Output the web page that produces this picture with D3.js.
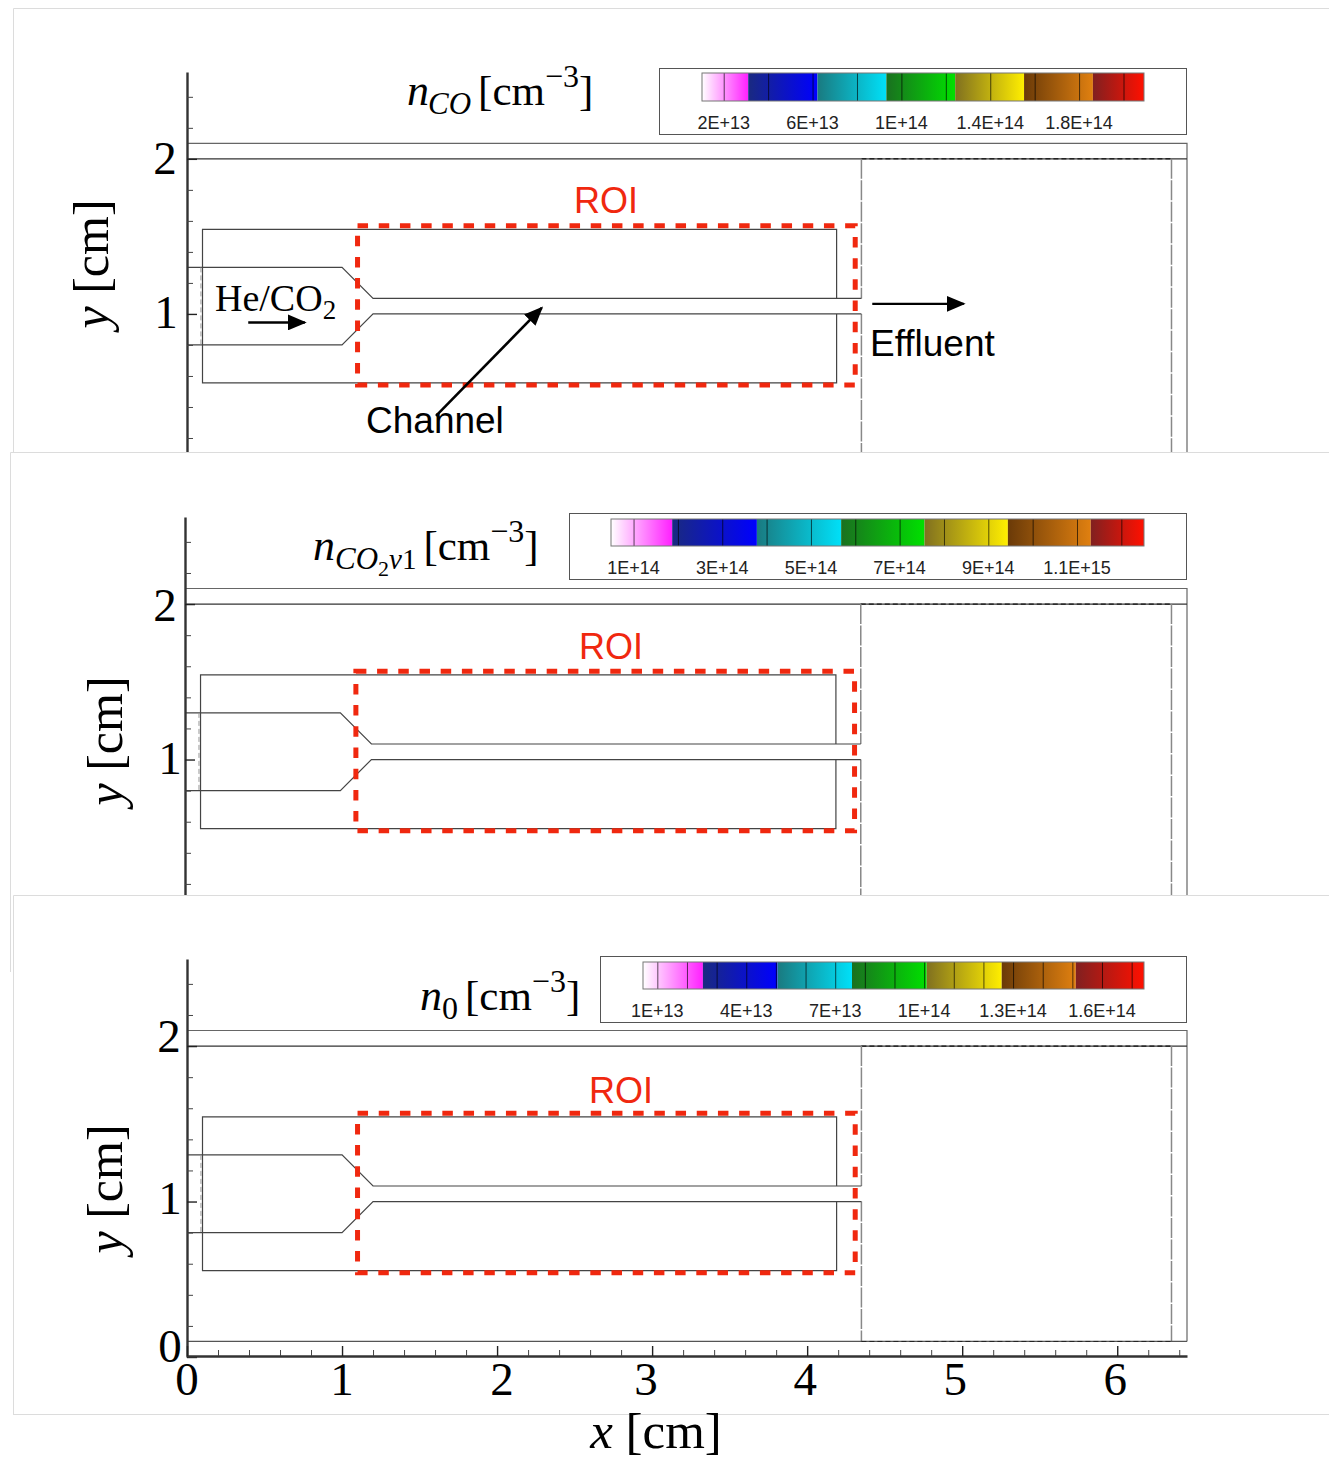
<!DOCTYPE html>
<html><head><meta charset="utf-8">
<script src="https://cdn.jsdelivr.net/npm/d3@7"></script>
<style>html,body{margin:0;padding:0;background:#fff}svg{display:block}</style></head>
<body><svg id="c" width="1329" height="1459"></svg>
<script>
// ---------- data (centimetres and colour-bar values) ----------
const xMajorTicks=[0,1,2,3,4,5,6];
const xMinorTicks=[0.2,0.4,0.6,0.8,1.2,1.4,1.6,1.8,2.2,2.4,2.6,2.8,3.2,3.4,3.6,3.8,4.2,4.4,4.6,4.8,5.2,5.4,5.6,5.8,6.2,6.4];
const yMajorTicks=[0,1,2];
const yMinorTicks=[0.2,0.4,0.6,0.8,1.2,1.4,1.6,1.8,2.2,2.4];
const wallUpper=[[0,1.3],[1,1.3],[1.2,1.1],[4.35,1.1]];
const wallLower=[[0,0.8],[1,0.8],[1.2,1],[4.35,1]];
const inletDash=[[0.09,1.3],[0.09,0.8]];
const innerBox=[[4.19,1.1],[4.19,1.545],[0.1,1.545],[0.1,0.555],[4.19,0.555],[4.19,1]];
const roiBox=[1.1,4.31,0.542,1.568];
const bandStart=["#ffffff","#1a2a80","#1a7a80","#1a7020","#807020","#6a3a08","#802020"];
const bandEnd=["#ff20ff","#0000ff","#00e0f8","#00e000","#ffee00","#e08010","#ff1000"];
// colour-bar 1 (units 1E13)
const bands1=[1,3.08,6.2,9.3,12.4,15.5,18.6,20.9];
const levels1=[2,4,6,8,10,12,14,16,18,20];
const labelVals1=[2,6,10,14,18];
const labels1=["2E+13","6E+13","1E+14","1.4E+14","1.8E+14"];
// colour-bar 2 (units 1E14)
const bands2=[0.48,1.86,3.77,5.67,7.55,9.43,11.3,12.5];
const levels2=[1,2,3,4,5,6,7,8,9,10,11,12];
const labelVals2=[1,3,5,7,9,11];
const labels2=["1E+14","3E+14","5E+14","7E+14","9E+14","1.1E+15"];
// colour-bar 3 (units 1E13)
const bands3=[0.5,2.52,5.04,7.55,10.07,12.6,15.1,17.4];
const levels3=[1,2,3,4,5,6,7,8,9,10,11,12,13,14,15,16,17];
const labelVals3=[1,4,7,10,13,16];
const labels3=["1E+13","4E+13","7E+13","1E+14","1.3E+14","1.6E+14"];

// ---------- layout ----------
const SERIF="'Liberation Serif',serif", SANS="'Liberation Sans',sans-serif";
const RED="#f0280f", LINE="#444";
const panels=[
 {top:8,bottom:452,frameL:13,frameB:452,xr:[187,1187],yr:[469,72],bands:bands1,levels:levels1,labelVals:labelVals1,labels:labels1,
  legend:[659,68,1186,134],bar:[702,1144,73,101],labelY:129,roi:[606,213],yTitle:[91,264],yLab:[[2,165,174],[1,166,328]],title:{x:407,y:105}},
 {top:452,bottom:895,frameL:10,frameB:972,xr:[185,1187],yr:[915,517],bands:bands2,levels:levels2,labelVals:labelVals2,labels:labels2,
  legend:[569,513,1186,579],bar:[611,1144,519,546],labelY:574,roi:[611,659],yTitle:[105,741],yLab:[[2,165,621],[1,170,774]],title:{x:313,y:560}},
 {top:895,bottom:1414,frameL:13,frameB:1414,xr:[187,1187],yr:[1357,959],bands:bands3,levels:levels3,labelVals:labelVals3,labels:labels3,
  legend:[600,956,1186,1022],bar:[643,1144,962,989],labelY:1017,roi:[621,1103],yTitle:[105,1189],yLab:[[2,169,1052],[1,170,1214],[0,170,1362]],title:{x:420,y:1010}}
];
const svg=d3.select("#c");
const defs=svg.append("defs");
bandStart.forEach((c,i)=>{
  const g=defs.append("linearGradient").attr("id","band"+i);
  g.append("stop").attr("offset","0%").attr("stop-color",c);
  g.append("stop").attr("offset","100%").attr("stop-color",bandEnd[i]);
});
defs.append("marker").attr("id","m1").attr("viewBox","0 0 10 10").attr("refX",9).attr("refY",5)
    .attr("preserveAspectRatio","none")
    .attr("markerUnits","userSpaceOnUse").attr("markerWidth",19).attr("markerHeight",16).attr("orient","auto")
    .append("path").attr("d","M0,0L10,5L0,10Z").attr("fill","#000");
const lineGen=(x,y)=>d3.line().x(d=>x(d[0])).y(d=>y(d[1]));

panels.forEach((p,i)=>{
  const x=d3.scaleLinear().domain([0,6.45]).range(p.xr);
  const y=d3.scaleLinear().domain([0,2.56]).range(p.yr);
  const g=svg.append("g");
  // frame
  g.append("path").attr("d",`M1329,${p.top+.5}H${p.frameL+.5}V${p.frameB}`).attr("fill","none").attr("stroke","#dcdcdc").attr("stroke-width",1);
  if(i===2) g.append("path").attr("d",`M${p.frameL},${p.bottom+.5}H1329`).attr("stroke","#dcdcdc");
  const clipId="clip"+i;
  defs.append("clipPath").attr("id",clipId).append("rect").attr("x",p.frameL+1).attr("y",p.top+1).attr("width",1329).attr("height",(i===2?1362:p.bottom)-p.top-1);
  const plot=g.append("g").attr("clip-path",`url(#${clipId})`);
  const ln=lineGen(x,y);
  const stroke=(s,w=1)=>s.attr("fill","none").attr("stroke",LINE).attr("stroke-width",w);
  // outer geometry
  const yBot=i===2?0.1:0;
  stroke(plot.append("path").attr("d",ln([[0,2.1],[6.45,2.1],[6.45,yBot]])),1.2).attr("stroke","#666");
  stroke(plot.append("path").attr("d",ln([[0,2],[6.45,2]])),1.2).attr("stroke","#333");
  stroke(plot.append("path").attr("d",ln([[4.35,2],[6.35,2]]))).attr("stroke-dasharray","5 3").attr("stroke","#000");
  const dashV=s=>stroke(s,1.5).attr("stroke","#888").attr("stroke-dasharray","20 1.5");
  dashV(plot.append("path").attr("d",ln([[4.35,2],[4.35,1.1]])));
  dashV(plot.append("path").attr("d",ln([[4.35,1],[4.35,yBot]])));
  dashV(plot.append("path").attr("d",ln([[6.35,2],[6.35,yBot]])));
  if(i===2){
    stroke(plot.append("path").attr("d",ln([[0,0.1],[6.45,0.1]])),1.2).attr("stroke","#555");
    stroke(plot.append("path").attr("d",ln([[4.35,0.1],[6.35,0.1]]))).attr("stroke-dasharray","5 3").attr("stroke","#222");
  }
  // channel and inner box
  [wallUpper,wallLower,innerBox].forEach(d=>stroke(plot.append("path").attr("d",ln(d)),1.2));
  stroke(plot.append("path").attr("d",ln(inletDash))).attr("stroke","#999").attr("stroke-dasharray","5 3");
  // ROI
  plot.append("rect").attr("x",x(roiBox[0])).attr("y",y(roiBox[3]))
    .attr("width",x(roiBox[1])-x(roiBox[0])).attr("height",y(roiBox[2])-y(roiBox[3]))
    .attr("fill","none").attr("stroke",RED).attr("stroke-width",5).attr("stroke-dasharray","10.5 10.7");
  g.append("text").text("ROI").attr("x",p.roi[0]).attr("y",p.roi[1]).attr("text-anchor","middle")
    .attr("font-family",SANS).attr("font-size",36).attr("fill",RED);
  // y axis
  const axG=plot.append("g").attr("transform",`translate(${p.xr[0]},0)`);
  axG.append("g").call(d3.axisRight(y).tickValues(yMinorTicks).tickSize(6).tickSizeOuter(0).tickFormat(""))
    .call(s=>s.selectAll("line").attr("stroke",LINE)).call(s=>s.select(".domain").attr("stroke","#333").attr("stroke-width",2.4));
  axG.append("g").call(d3.axisRight(y).tickValues(yMajorTicks).tickSize(10).tickSizeOuter(0).tickFormat(""))
    .call(s=>s.selectAll("line").attr("stroke","#222").attr("stroke-width",1.4)).call(s=>s.select(".domain").remove());
  p.yLab.forEach(([t,lx,ly])=>g.append("text").text(t).attr("x",lx).attr("y",ly).attr("text-anchor","middle")
    .attr("font-family",SERIF).attr("font-size",47).attr("fill","#000"));
  // y title
  const yt=g.append("text").attr("transform",`translate(${p.yTitle[0]+17},${p.yTitle[1]}) rotate(-90)`).attr("text-anchor","middle")
    .attr("font-family",SERIF).attr("font-size",50).attr("fill","#000");
  yt.append("tspan").attr("font-style","italic").text("y");
  yt.append("tspan").text(" [cm]");
  // legend
  const [lx0,ly0,lx1,ly1]=p.legend;
  g.append("rect").attr("x",lx0+.5).attr("y",ly0+.5).attr("width",lx1-lx0).attr("height",ly1-ly0).attr("fill","#fff").attr("stroke","#555").attr("stroke-width",1);
  const c=d3.scaleLinear().domain(d3.extent(p.bands)).range([p.bar[0],p.bar[1]]);
  const bh=p.bar[3]-p.bar[2];
  d3.pairs(p.bands).forEach(([a,b],k)=>{
    g.append("rect").attr("x",c(a)).attr("y",p.bar[2]).attr("width",c(b)-c(a)).attr("height",bh).attr("fill",`url(#band${k})`);
  });
  g.selectAll(null).data(p.levels).join("line").attr("x1",d=>c(d)).attr("x2",d=>c(d)).attr("y1",p.bar[2]).attr("y2",p.bar[3])
    .attr("stroke","#000").attr("stroke-opacity",.65).attr("stroke-width",1);
  g.append("rect").attr("x",p.bar[0]).attr("y",p.bar[2]).attr("width",p.bar[1]-p.bar[0]).attr("height",bh).attr("fill","none").attr("stroke","#777").attr("stroke-width",1);
  g.selectAll(null).data(p.labelVals).join("text").attr("x",d=>c(d)-.5).attr("y",p.labelY).attr("text-anchor","middle")
    .attr("font-family",SANS).attr("font-size",18).attr("fill","#222").text((d,k)=>p.labels[k]);
  // title
  const t=g.append("text").attr("x",p.title.x).attr("y",p.title.y).attr("font-family",SERIF).attr("font-size",43).attr("fill","#000");
  const sub=(txt,dy,fs,it,dx=0)=>t.append("tspan").attr("dy",dy).attr("dx",dx).attr("font-size",fs).attr("font-style",it?"italic":"normal").text(txt);
  sub("n",0,44,true);
  if(i===0){ sub("CO",9,31,true,-1); sub("[cm",-9,43,false,7); }
  if(i===1){ sub("CO",9,31,true); sub("2",7,22,false); sub("v",-7,29,true); sub("1",0,29,false); sub("[cm",-9,43,false,7); }
  if(i===2){ sub("0",9,32,false); sub("[cm",-9,43,false,7); }
  sub("−3",-18,32); sub("]",18,43);
  if(i===2){
    // bottom axis
    const xAxis=g.append("g").attr("transform",`translate(0,${p.yr[0]-1})`);
    xAxis.append("g").call(d3.axisTop(x).tickValues(xMinorTicks).tickSize(6).tickSizeOuter(0).tickFormat(""))
      .call(s=>s.selectAll("line").attr("stroke",LINE)).call(s=>s.select(".domain").attr("stroke","#333").attr("stroke-width",2.4));
    xAxis.append("g").call(d3.axisTop(x).tickValues(xMajorTicks).tickSize(10).tickSizeOuter(0).tickFormat(""))
      .call(s=>s.selectAll("line").attr("stroke","#222").attr("stroke-width",1.4)).call(s=>s.select(".domain").remove());
    const nudge=[0,0,5,-6,-2,-7,-2];
    g.selectAll(null).data(xMajorTicks).join("text").attr("x",(d,k)=>x(d)+nudge[k]).attr("y",1395).attr("text-anchor","middle")
      .attr("font-family",SERIF).attr("font-size",47).attr("fill","#000").text(d=>d);
    const xt=svg.append("text").attr("x",656).attr("y",1448).attr("text-anchor","middle").attr("font-family",SERIF).attr("font-size",51).attr("fill","#000");
    xt.append("tspan").attr("font-style","italic").text("x");
    xt.append("tspan").text(" [cm]");
  }
  if(i===0){
    // annotations
    const arrow=(a,b,w)=>g.append("path").attr("d",ln([a,b])).attr("stroke","#000").attr("stroke-width",w).attr("fill","none").attr("marker-end","url(#m1)");
    arrow([0.395,0.945],[0.76,0.945],2.4);
    arrow([4.42,1.065],[5.01,1.065],2.4);
    arrow([1.606,0.342],[2.288,1.039],2.6);
    const he=g.append("text").attr("x",215).attr("y",311).attr("font-family",SERIF).attr("font-size",38).attr("fill","#000");
    he.append("tspan").text("He/CO");
    he.append("tspan").attr("dy",8).attr("font-size",27).text("2");
    g.append("text").text("Effluent").attr("x",870).attr("y",356).attr("font-family",SANS).attr("font-size",37).attr("fill","#000");
    g.append("text").text("Channel").attr("x",366).attr("y",433).attr("font-family",SANS).attr("font-size",37).attr("fill","#000");
  }
});
</script></body></html>
